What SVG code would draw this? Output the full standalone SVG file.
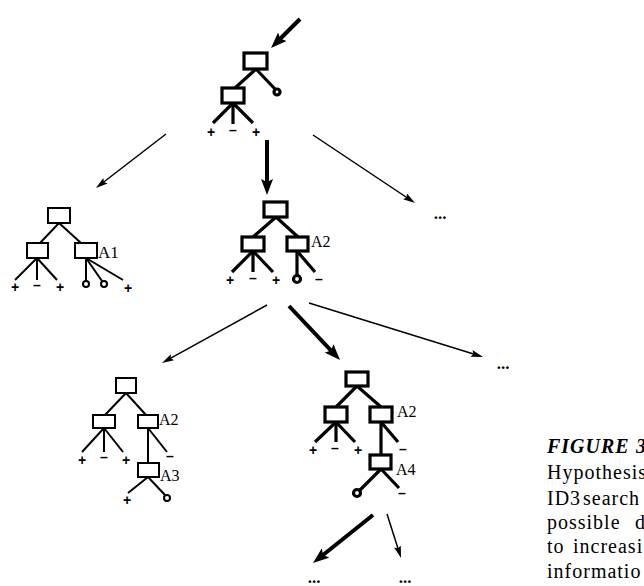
<svg xmlns="http://www.w3.org/2000/svg" width="644" height="586" viewBox="0 0 644 586">
<defs>
<marker id="ah" markerUnits="userSpaceOnUse" markerWidth="12" markerHeight="7" refX="3" refY="3.5" orient="auto">
<path d="M0,0 L12,3.5 L0,7 L2,3.5 z" fill="#000"/>
</marker>
<marker id="ahb" markerUnits="userSpaceOnUse" markerWidth="16" markerHeight="12" refX="4" refY="6" orient="auto">
<path d="M0,0 L16,6 L0,12 L3,6 z" fill="#000"/>
</marker>
</defs>
<style>
.b rect,.b line,.b circle{stroke:#000;stroke-width:3.2;fill:none}
.t rect,.t line,.t circle{stroke:#000;stroke-width:2;fill:none}
.b rect,.t rect{fill:#fff}
.s{font-family:"Liberation Sans",Arial,sans-serif;font-weight:bold;font-size:14px;text-anchor:middle;fill:#000}
.a{font-family:"Liberation Serif","Times New Roman",serif;font-size:16px;fill:#000}
.d{font-family:"Liberation Serif","Times New Roman",serif;font-weight:bold;font-size:17px;text-anchor:middle;fill:#000}
.c{font-family:"Liberation Serif","Times New Roman",serif;font-size:20px;letter-spacing:1px;fill:#000}
.thin{stroke:#000;stroke-width:1.5;fill:none;marker-end:url(#ah)}
.thick{stroke:#000;stroke-width:4;fill:none;marker-end:url(#ahb)}
</style>
<rect x="0" y="0" width="644" height="586" fill="#fff"/>

<g id="connectors">
<line class="thick" x1="300" y1="19" x2="279.5" y2="39.5"/>
<line class="thick" x1="267" y1="140" x2="267" y2="183"/>
<line class="thin" x1="166" y1="134" x2="103.1" y2="182.5"/>
<line class="thin" x1="313" y1="135" x2="407.5" y2="198"/>
<line class="thin" x1="267" y1="305" x2="169.9" y2="358.7"/>
<line class="thick" x1="289" y1="306" x2="331.8" y2="351.3"/>
<line class="thin" x1="309" y1="303" x2="474.4" y2="354.3"/>
<line class="thick" x1="373" y1="515" x2="322.4" y2="555.5"/>
<line class="thin" x1="387" y1="514" x2="398.3" y2="549.4"/>
</g>

<g id="tree-top" class="b">
<line x1="256" y1="69" x2="235" y2="88"/>
<line x1="256" y1="69" x2="275" y2="89"/>
<circle cx="277" cy="92" r="3"/>
<rect x="244" y="53" width="23" height="16"/>
<line x1="233" y1="103" x2="213" y2="123"/>
<line x1="233" y1="103" x2="233" y2="124"/>
<line x1="233" y1="103" x2="253" y2="123"/>
<rect x="222" y="88" width="22" height="15"/>
<text class="s" x="211" y="137">+</text>
<text class="s" x="233" y="135">–</text>
<text class="s" x="256" y="137">+</text>
</g>

<g id="tree-left" class="t">
<line x1="59" y1="223" x2="40" y2="243"/>
<line x1="59" y1="223" x2="81" y2="243"/>
<rect x="48" y="208" width="22" height="15"/>
<line x1="37" y1="258" x2="15" y2="280"/>
<line x1="37" y1="258" x2="37" y2="280"/>
<line x1="37" y1="258" x2="57" y2="280"/>
<rect x="27" y="243" width="21" height="15"/>
<text class="s" x="15" y="292">+</text>
<text class="s" x="37" y="290">–</text>
<text class="s" x="60" y="292">+</text>
<line x1="86" y1="258" x2="86" y2="281"/>
<circle cx="86" cy="284" r="3"/>
<line x1="86" y1="258" x2="102" y2="281"/>
<circle cx="104" cy="284" r="3"/>
<line x1="86" y1="258" x2="123" y2="280"/>
<text class="s" x="128" y="293">+</text>
<rect x="75" y="243" width="22" height="15"/>
<text class="a" x="98" y="258" style="font-size:17px">A1</text>
</g>

<g id="tree-mid" class="b">
<line x1="276" y1="217" x2="253" y2="237"/>
<line x1="276" y1="217" x2="298" y2="237"/>
<rect x="264" y="202" width="23" height="15"/>
<line x1="253" y1="251" x2="232" y2="272"/>
<line x1="253" y1="251" x2="253" y2="272"/>
<line x1="253" y1="251" x2="273" y2="272"/>
<rect x="242" y="237" width="22" height="14"/>
<text class="s" x="230" y="285">+</text>
<text class="s" x="253" y="283">–</text>
<text class="s" x="276" y="285">+</text>
<line x1="297" y1="251" x2="297" y2="275"/>
<circle cx="297" cy="279" r="3.5"/>
<line x1="297" y1="251" x2="315" y2="272"/>
<text class="s" x="319" y="284">–</text>
<rect x="287" y="237" width="21" height="14"/>
<text class="a" x="311" y="247">A2</text>
</g>

<g id="tree-lower-left" class="t">
<line x1="126" y1="393" x2="105" y2="415"/>
<line x1="126" y1="393" x2="146" y2="415"/>
<rect x="116" y="378" width="20" height="15"/>
<line x1="104" y1="428" x2="82" y2="452"/>
<line x1="104" y1="428" x2="104" y2="452"/>
<line x1="104" y1="428" x2="123" y2="452"/>
<rect x="93" y="415" width="22" height="13"/>
<text class="s" x="82" y="465">+</text>
<text class="s" x="104" y="462">–</text>
<text class="s" x="126" y="465">+</text>
<line x1="148" y1="428" x2="148" y2="463"/>
<line x1="148" y1="428" x2="167" y2="452"/>
<text class="s" x="170" y="461">–</text>
<rect x="138" y="415" width="20" height="13"/>
<text class="a" x="159" y="425">A2</text>
<line x1="148" y1="477" x2="128" y2="493"/>
<text class="s" x="127" y="505">+</text>
<line x1="148" y1="477" x2="165" y2="495"/>
<circle cx="167" cy="498" r="3"/>
<rect x="138" y="463" width="21" height="14"/>
<text class="a" x="160" y="481">A3</text>
</g>

<g id="tree-lower-right" class="b">
<line x1="357" y1="386" x2="336" y2="407"/>
<line x1="357" y1="386" x2="381" y2="407"/>
<rect x="346" y="372" width="22" height="14"/>
<line x1="336" y1="422" x2="315" y2="442"/>
<line x1="336" y1="422" x2="336" y2="442"/>
<line x1="336" y1="422" x2="355" y2="442"/>
<rect x="325" y="407" width="22" height="15"/>
<text class="s" x="313" y="455">+</text>
<text class="s" x="335" y="453">–</text>
<text class="s" x="358" y="455">+</text>
<line x1="381" y1="422" x2="381" y2="455"/>
<line x1="381" y1="422" x2="398" y2="442"/>
<text class="s" x="403" y="454">–</text>
<rect x="370" y="407" width="22" height="15"/>
<text class="a" x="397" y="417">A2</text>
<line x1="381" y1="469" x2="360" y2="490"/>
<circle cx="357" cy="493" r="3.5"/>
<line x1="381" y1="469" x2="399" y2="488"/>
<text class="s" x="402" y="498">–</text>
<rect x="370" y="455" width="21" height="14"/>
<text class="a" x="396" y="475">A4</text>
</g>

<g id="ellipses">
<text class="d" x="440" y="219">...</text>
<text class="d" x="503" y="369">...</text>
<text class="d" x="314" y="583">...</text>
<text class="d" x="405" y="583">...</text>
</g>

<g id="caption">
<text class="c" x="547" y="453" style="font-weight:bold;font-style:italic">FIGURE<tspan x="636">3</tspan></text>
<text class="c" x="547" y="479">Hypothesis</text>
<text class="c" x="547" y="505">ID3<tspan x="583">search</tspan></text>
<text class="c" x="547" y="529">possible<tspan x="635">d</tspan></text>
<text class="c" x="547" y="553">to<tspan x="573">increasi</tspan></text>
<text class="c" x="547" y="578">informatio</text>
</g>
</svg>
